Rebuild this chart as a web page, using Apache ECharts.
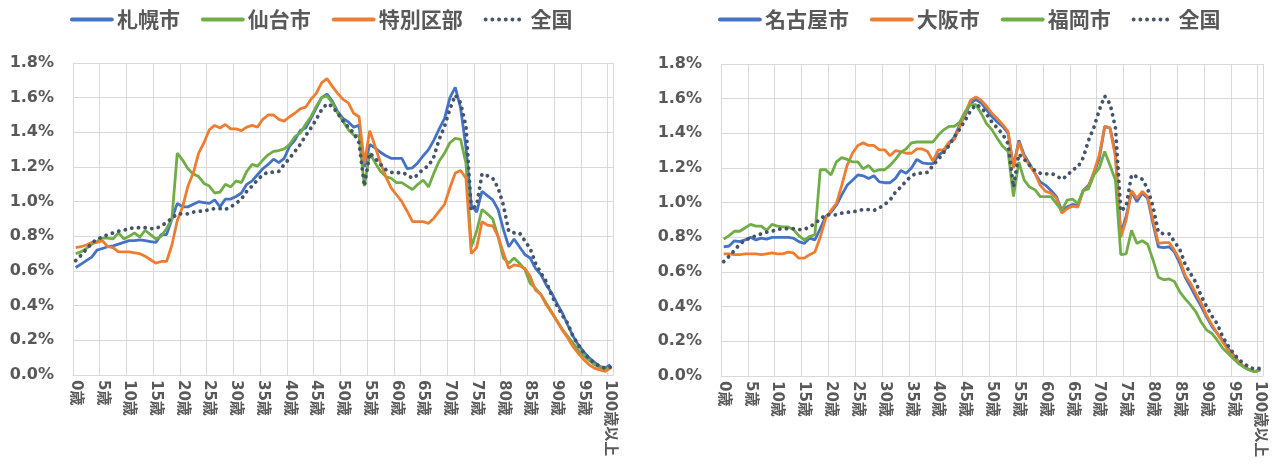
<!DOCTYPE html>
<html><head><meta charset="utf-8">
<script src="https://cdn.jsdelivr.net/npm/echarts@6/dist/echarts.min.js"></script>
<style>html,body{margin:0;padding:0;background:#fff}#c{width:1280px;height:471px}</style>
</head><body><div id="c"></div>
<script>
const categories = ['0歳','1歳','2歳','3歳','4歳','5歳','6歳','7歳','8歳','9歳','10歳','11歳','12歳','13歳','14歳','15歳','16歳','17歳','18歳','19歳','20歳','21歳','22歳','23歳','24歳','25歳','26歳','27歳','28歳','29歳','30歳','31歳','32歳','33歳','34歳','35歳','36歳','37歳','38歳','39歳','40歳','41歳','42歳','43歳','44歳','45歳','46歳','47歳','48歳','49歳','50歳','51歳','52歳','53歳','54歳','55歳','56歳','57歳','58歳','59歳','60歳','61歳','62歳','63歳','64歳','65歳','66歳','67歳','68歳','69歳','70歳','71歳','72歳','73歳','74歳','75歳','76歳','77歳','78歳','79歳','80歳','81歳','82歳','83歳','84歳','85歳','86歳','87歳','88歳','89歳','90歳','91歳','92歳','93歳','94歳','95歳','96歳','97歳','98歳','99歳','100歳以上'];

const yTicks = [0, 0.2, 0.4, 0.6, 0.8, 1.0, 1.2, 1.4, 1.6, 1.8];

const sapporo = [0.62,0.64,0.66,0.68,0.72,0.73,0.74,0.745,0.755,0.765,
0.775,0.775,0.78,0.775,0.77,0.765,0.81,0.81,0.90,0.99,
0.97,0.97,0.985,1.0,0.995,0.99,1.01,0.97,1.015,1.015,
1.03,1.05,1.10,1.12,1.155,1.19,1.215,1.245,1.225,1.25,
1.32,1.355,1.41,1.425,1.48,1.54,1.60,1.62,1.58,1.52,
1.48,1.46,1.43,1.44,1.20,1.33,1.31,1.285,1.265,1.25,
1.25,1.25,1.19,1.195,1.225,1.265,1.30,1.355,1.42,1.48,
1.60,1.66,1.54,1.31,0.98,0.94,1.06,1.035,1.01,0.955,
0.84,0.74,0.785,0.74,0.695,0.675,0.615,0.58,0.52,0.475,
0.415,0.36,0.29,0.225,0.175,0.135,0.10,0.075,0.05,0.04,0.06];

const sendai = [0.70,0.71,0.73,0.755,0.77,0.79,0.79,0.785,0.82,0.785,
0.80,0.82,0.795,0.835,0.81,0.785,0.80,0.845,0.90,1.28,
1.24,1.19,1.16,1.145,1.105,1.09,1.05,1.055,1.10,1.085,
1.12,1.11,1.175,1.215,1.205,1.24,1.27,1.29,1.295,1.305,
1.33,1.375,1.395,1.445,1.49,1.55,1.60,1.61,1.57,1.51,
1.465,1.415,1.385,1.38,1.09,1.28,1.225,1.175,1.145,1.135,
1.11,1.11,1.09,1.07,1.10,1.125,1.085,1.165,1.235,1.28,
1.34,1.365,1.36,1.22,0.74,0.83,0.955,0.93,0.90,0.80,
0.675,0.645,0.675,0.645,0.61,0.53,0.50,0.465,0.415,0.365,
0.315,0.265,0.225,0.185,0.145,0.11,0.085,0.06,0.045,0.035,0.04];

const tokubetsu = [0.735,0.74,0.75,0.765,0.765,0.775,0.74,0.735,0.71,0.71,
0.71,0.705,0.70,0.685,0.665,0.645,0.655,0.655,0.75,0.89,
0.97,1.09,1.165,1.28,1.34,1.415,1.44,1.425,1.445,1.42,
1.42,1.41,1.43,1.44,1.43,1.475,1.50,1.50,1.475,1.465,
1.49,1.51,1.535,1.545,1.59,1.625,1.685,1.71,1.665,1.625,
1.59,1.57,1.51,1.49,1.22,1.41,1.32,1.225,1.145,1.08,
1.04,1.0,0.945,0.885,0.885,0.885,0.875,0.905,0.945,0.985,
1.08,1.165,1.18,1.135,0.70,0.735,0.885,0.865,0.86,0.80,
0.705,0.615,0.635,0.63,0.615,0.57,0.49,0.465,0.405,0.36,
0.31,0.26,0.215,0.165,0.125,0.09,0.06,0.04,0.03,0.02,0.04];

const zenkoku = [0.66,0.69,0.725,0.76,0.785,0.795,0.81,0.82,0.83,0.835,
0.845,0.85,0.85,0.85,0.845,0.845,0.86,0.88,0.905,0.93,
0.93,0.93,0.94,0.945,0.945,0.955,0.96,0.96,0.955,0.97,
0.99,1.015,1.06,1.09,1.125,1.155,1.17,1.17,1.175,1.215,
1.25,1.29,1.33,1.38,1.425,1.475,1.53,1.565,1.55,1.51,
1.465,1.43,1.395,1.34,1.09,1.28,1.25,1.215,1.185,1.17,
1.165,1.17,1.155,1.135,1.155,1.19,1.205,1.26,1.36,1.435,
1.535,1.615,1.57,1.435,0.95,0.98,1.16,1.15,1.135,1.08,
0.98,0.83,0.82,0.82,0.775,0.73,0.645,0.59,0.54,0.46,
0.40,0.345,0.30,0.225,0.175,0.13,0.095,0.07,0.05,0.04,0.045];

const nagoya = [0.745,0.75,0.78,0.775,0.785,0.80,0.785,0.795,0.79,0.80,
0.80,0.80,0.80,0.795,0.775,0.765,0.795,0.785,0.85,0.92,
0.945,0.985,1.045,1.10,1.13,1.16,1.155,1.14,1.155,1.12,
1.115,1.115,1.14,1.185,1.17,1.20,1.25,1.23,1.225,1.225,
1.275,1.295,1.34,1.38,1.45,1.505,1.575,1.595,1.575,1.535,
1.495,1.465,1.44,1.40,1.205,1.36,1.275,1.225,1.17,1.12,
1.10,1.07,1.035,0.955,0.975,0.99,0.985,1.07,1.10,1.17,
1.255,1.44,1.43,1.285,0.82,0.92,1.065,1.005,1.055,1.025,
0.88,0.745,0.74,0.745,0.715,0.65,0.57,0.515,0.455,0.40,
0.34,0.285,0.245,0.205,0.16,0.12,0.08,0.05,0.035,0.025,0.035];

const osaka = [0.705,0.705,0.70,0.70,0.705,0.705,0.705,0.70,0.705,0.71,
0.705,0.705,0.715,0.71,0.68,0.68,0.70,0.715,0.80,0.91,
0.955,0.995,1.10,1.215,1.285,1.33,1.345,1.33,1.33,1.305,
1.305,1.27,1.30,1.295,1.285,1.285,1.31,1.31,1.295,1.24,
1.305,1.305,1.35,1.365,1.44,1.515,1.59,1.61,1.59,1.555,
1.515,1.485,1.45,1.41,1.20,1.35,1.265,1.215,1.17,1.10,
1.065,1.055,1.025,0.94,0.965,0.98,0.975,1.07,1.09,1.18,
1.275,1.44,1.43,1.265,0.80,0.90,1.07,1.025,1.065,1.035,
0.90,0.765,0.77,0.77,0.725,0.67,0.58,0.535,0.475,0.42,
0.35,0.295,0.245,0.195,0.15,0.115,0.08,0.055,0.035,0.025,0.04];

const fukuoka = [0.79,0.81,0.835,0.835,0.855,0.875,0.865,0.865,0.84,0.875,
0.865,0.86,0.86,0.845,0.81,0.785,0.805,0.815,1.19,1.19,
1.16,1.235,1.26,1.25,1.235,1.235,1.195,1.215,1.18,1.19,
1.19,1.215,1.25,1.29,1.31,1.345,1.35,1.35,1.35,1.35,
1.39,1.42,1.44,1.44,1.465,1.525,1.565,1.565,1.515,1.455,
1.42,1.37,1.325,1.295,1.035,1.235,1.13,1.09,1.075,1.035,
1.035,1.035,0.995,0.955,1.015,1.02,0.995,1.07,1.08,1.16,
1.20,1.295,1.215,1.13,0.70,0.705,0.84,0.765,0.78,0.76,
0.67,0.57,0.555,0.56,0.545,0.485,0.445,0.41,0.37,0.31,
0.265,0.245,0.205,0.16,0.13,0.10,0.07,0.05,0.035,0.025,0.04];

const BLUE = '#4472C4', ORANGE = '#ED7D31', GREEN = '#70AD47', NAVY = '#44546A';
const GRID = '#D9D9D9', TXT = '#595959';
const LAT = "'DejaVu Sans','Noto Sans CJK JP',sans-serif";
const CJK = "'Noto Sans CJK JP','DejaVu Sans',sans-serif";

function xAxis(gi) {
  return {
    type: 'category', gridIndex: gi, data: categories, boundaryGap: true,
    axisLine: { show: true, lineStyle: { color: GRID, width: 1 } },
    axisTick: { show: false, interval: 4 },
    splitLine: { show: true, interval: 4, lineStyle: { color: GRID, width: 1 } },
    axisLabel: { interval: 4, rotate: -90, margin: 5, color: TXT, fontWeight: 'bold', fontSize: 15, fontFamily: LAT }
  };
}
function yAxis(gi) {
  return {
    type: 'value', gridIndex: gi, min: yTicks[0], max: yTicks[yTicks.length - 1], interval: yTicks[1] - yTicks[0],
    axisLine: { show: false }, axisTick: { show: false },
    splitLine: { show: true, lineStyle: { color: GRID, width: 1 } },
    axisLabel: { margin: 19, color: TXT, fontWeight: 'bold', fontSize: 16, fontFamily: LAT,
      formatter: v => v.toFixed(1) + '%' }
  };
}
function solid(name, data, color, gi) {
  return { name, type: 'line', data, xAxisIndex: gi, yAxisIndex: gi, symbol: 'none', showSymbol: false,
    lineStyle: { color, width: 2.8 }, itemStyle: { color }, emphasis: { disabled: true }, animation: false };
}
function dotted(name, data, gi) {
  return { name, type: 'line', data, xAxisIndex: gi, yAxisIndex: gi, symbol: 'none', showSymbol: false, z: 3,
    lineStyle: { color: NAVY, width: 3.8, type: [0.1, 6.6], cap: 'round' }, itemStyle: { color: NAVY },
    emphasis: { disabled: true }, animation: false };
}
function legend(left, names) {
  return { left, top: 9, padding: 0, itemWidth: 40, itemHeight: 14, itemGap: 21, data: names, selectedMode: false,
    itemStyle: { opacity: 0 },
    lineStyle: { width: 3.8, cap: 'round' },
    textStyle: { color: TXT, fontWeight: 'bold', fontSize: 21, fontFamily: CJK } };
}

const chart = echarts.init(document.getElementById('c'), null, { renderer: 'canvas' });
chart.setOption({
  animation: false,
  backgroundColor: '#fff',
  legend: [
    legend(70, ['札幌市', '仙台市', '特別区部', '全国']),
    legend(718, ['名古屋市', '大阪市', '福岡市', '全国'])
  ],
  grid: [
    { left: 73, top: 63, width: 540, height: 312 },
    { left: 721, top: 64, width: 542, height: 312 }
  ],
  xAxis: [xAxis(0), xAxis(1)],
  yAxis: [yAxis(0), yAxis(1)],
  series: [
    solid('札幌市', sapporo, BLUE, 0),
    solid('仙台市', sendai, GREEN, 0),
    solid('特別区部', tokubetsu, ORANGE, 0),
    dotted('全国', zenkoku, 0),
    solid('名古屋市', nagoya, BLUE, 1),
    solid('大阪市', osaka, ORANGE, 1),
    solid('福岡市', fukuoka, GREEN, 1),
    dotted('全国', zenkoku, 1)
  ]
});
</script></body></html>
